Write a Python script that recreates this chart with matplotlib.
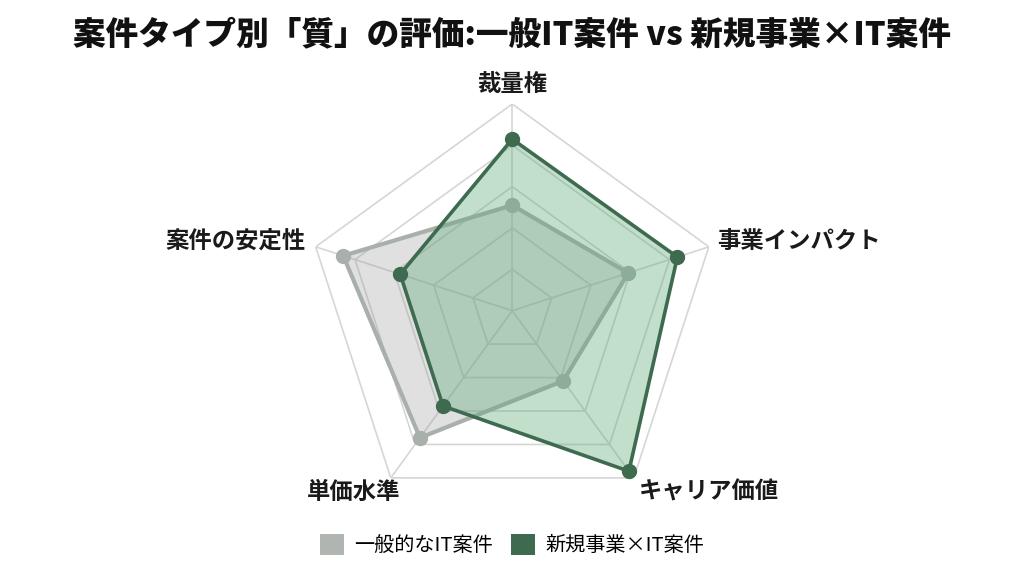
import matplotlib
matplotlib.use('Agg')
import matplotlib.pyplot as plt
from matplotlib.patches import Patch
import numpy as np

plt.rcParams['font.family'] = ['Noto Sans CJK JP', 'DejaVu Sans']

# データ
ejes = ['裁量権', '事業インパクト', 'キャリア価値', '単価水準', '案件の安定性']
general_it = [5.1, 5.9, 4.2, 7.6, 8.6]
new_biz_it = [8.3, 8.4, 9.6, 5.7, 5.7]
series_names = ['一般的なIT案件', '新規事業×IT案件']
title = '案件タイプ別「質」の評価:一般IT案件 vs 新規事業×IT案件'
r_max = 10
ring_levels = [2, 4, 6, 8, 10]

gray_line = '#a9afab'
gray_fill = '#9a9a9a'
green_line = '#3e6b4f'
green_fill = '#5fab7a'

n = len(ejes)
angles = np.linspace(0, 2 * np.pi, n, endpoint=False)
ang_closed = np.append(angles, angles[0])

fig = plt.figure(figsize=(10.24, 5.72), dpi=100)
ax = fig.add_axes([0.2984, 0.0955, 0.4037, 0.7227], projection='polar')
ax.set_theta_offset(np.pi / 2)
ax.set_theta_direction(-1)
ax.set_ylim(0, r_max)
ax.axis('off')

# grid pentagons + spokes
for lv in ring_levels:
    ax.plot(ang_closed, [lv] * (n + 1), color='#d6d6d6', lw=1.2, zorder=1)
for a in angles:
    ax.plot([a, a], [0, r_max], color='#d6d6d6', lw=1.2, zorder=1)


def close(v):
    return list(v) + [v[0]]


# 一般IT案件
ax.fill(ang_closed, close(general_it), color=gray_fill, alpha=0.3, zorder=2, lw=0)
ax.plot(ang_closed, close(general_it), color=gray_line, lw=3, zorder=3)
ax.plot(angles, general_it, 'o', color=gray_line, ms=10, zorder=3)

# 新規事業×IT案件
ax.fill(ang_closed, close(new_biz_it), color=green_fill, alpha=0.38, zorder=4, lw=0)
ax.plot(ang_closed, close(new_biz_it), color=green_line, lw=2.6, zorder=5)
ax.plot(angles, new_biz_it, 'o', color=green_line, ms=10, zorder=5)

# 軸ラベル
label_style = [
    ((0, 14), 'center'),
    ((6, 4), 'left'),
    ((4, -10), 'left'),
    ((7, -10), 'right'),
    ((-7, 4), 'right'),
]
for a, lab, (off, ha) in zip(angles, ejes, label_style):
    ax.annotate(lab, xy=(a, r_max), xytext=off, textcoords='offset points',
                ha=ha, va='center', fontsize=16.8, fontweight='bold',
                color='#1a1a1a', annotation_clip=False)

fig.text(0.5, 0.94, title, ha='center', va='center', fontsize=23.5,
         fontweight='heavy', color='#111111')

handles = [Patch(facecolor='#b0b5b1', edgecolor='none'),
           Patch(facecolor=green_line, edgecolor='none')]
fig.legend(handles, series_names, loc='center', bbox_to_anchor=(0.5, 0.047),
           ncol=2, frameon=False, fontsize=14.5, handlelength=1.2,
           handleheight=1.2, handletextpad=0.5, columnspacing=0.9)

fig.savefig('out.png', dpi=100, facecolor='white')
